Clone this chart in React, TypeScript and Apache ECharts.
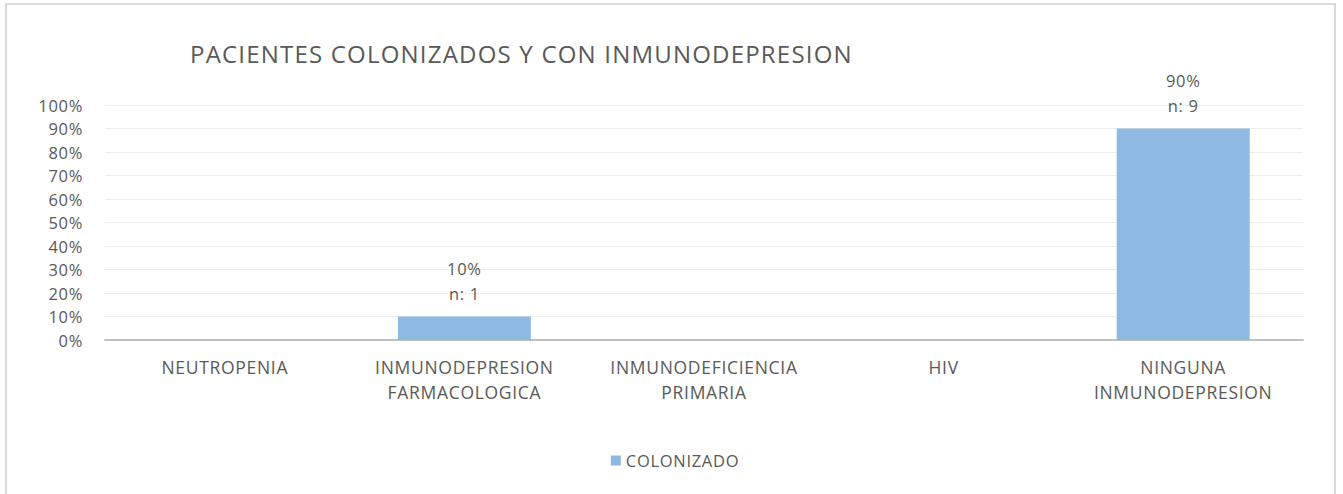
import React, { useEffect, useRef } from "react";
import * as echarts from "echarts";

const categories = [
  "NEUTROPENIA",
  "INMUNODEPRESION\nFARMACOLOGICA",
  "INMUNODEFICIENCIA\nPRIMARIA",
  "HIV",
  "NINGUNA\nINMUNODEPRESION",
];
const percentValues = [0, 10, 0, 0, 90];
const counts = [0, 1, 0, 0, 9];
const seriesName = "COLONIZADO";
const titleText = "PACIENTES COLONIZADOS Y CON INMUNODEPRESION";

const FONT = "'Open Sans', 'Noto Sans', sans-serif";
const TEXT = "#595959";

export default function App() {
  const ref = useRef<HTMLDivElement>(null);
  useEffect(() => {
    if (!ref.current) return;
    const chart = echarts.init(ref.current, undefined, { renderer: "svg" });
    chart.setOption({
      animation: false,
      backgroundColor: "#ffffff",
      textStyle: { fontFamily: FONT },
      graphic: [
        {
          type: "rect",
          shape: { x: 6, y: 4, width: 1329, height: 530 },
          style: { fill: "none", stroke: "#d9d9d9", lineWidth: 2 },
          silent: true,
        },
      ],
      title: {
        text: titleText,
        left: 185,
        top: 36,
        textStyle: {
          fontFamily: FONT,
          fontSize: 24,
          fontWeight: "normal",
          color: TEXT,
        },
      },
      grid: { left: 105, right: 40, top: 105, bottom: 154, containLabel: false },
      xAxis: {
        type: "category",
        data: categories,
        axisLine: { lineStyle: { color: "#bfbfbf", width: 2 } },
        axisTick: { show: false },
        axisLabel: {
          color: TEXT,
          fontSize: 17.5,
          lineHeight: 25,
          margin: 14,
          fontFamily: FONT,
          interval: 0,
        },
      },
      yAxis: {
        type: "value",
        min: 0,
        max: 100,
        interval: 10,
        axisLine: { show: false },
        axisTick: { show: false },
        splitLine: { lineStyle: { color: "#ececec", width: 1 } },
        axisLabel: {
          color: TEXT,
          fontSize: 16.5,
          margin: 22,
          fontFamily: FONT,
          formatter: (v: number) => `${v}%`,
        },
      },
      legend: {
        data: [seriesName],
        bottom: 20,
        left: "center",
        icon: "rect",
        itemWidth: 10,
        itemHeight: 10,
        itemGap: 6,
        textStyle: { color: TEXT, fontSize: 16.5, fontFamily: FONT },
      },
      series: [
        {
          name: seriesName,
          type: "bar",
          data: percentValues,
          barWidth: "55.5%",
          itemStyle: { color: "#8db9e2" },
          label: {
            show: true,
            position: "top",
            distance: 11,
            color: TEXT,
            fontSize: 16.5,
            lineHeight: 25,
            fontFamily: FONT,
            formatter: (p: any) =>
              p.value > 0 ? `${p.value}%\nn: ${counts[p.dataIndex]}` : "",
          },
        },
      ],
    });
    const texts = ref.current.querySelectorAll("text");
    texts.forEach((t) => {
      if (t.textContent === titleText) {
        (t as SVGTextElement).style.letterSpacing = "1.2px";
      }
    });
    return () => chart.dispose();
  }, []);
  return (
    <div
      ref={ref}
      style={{
        position: "fixed",
        left: 0,
        top: 0,
        width: 1343,
        height: 494,
        letterSpacing: "0.7px",
      }}
    />
  );
}
